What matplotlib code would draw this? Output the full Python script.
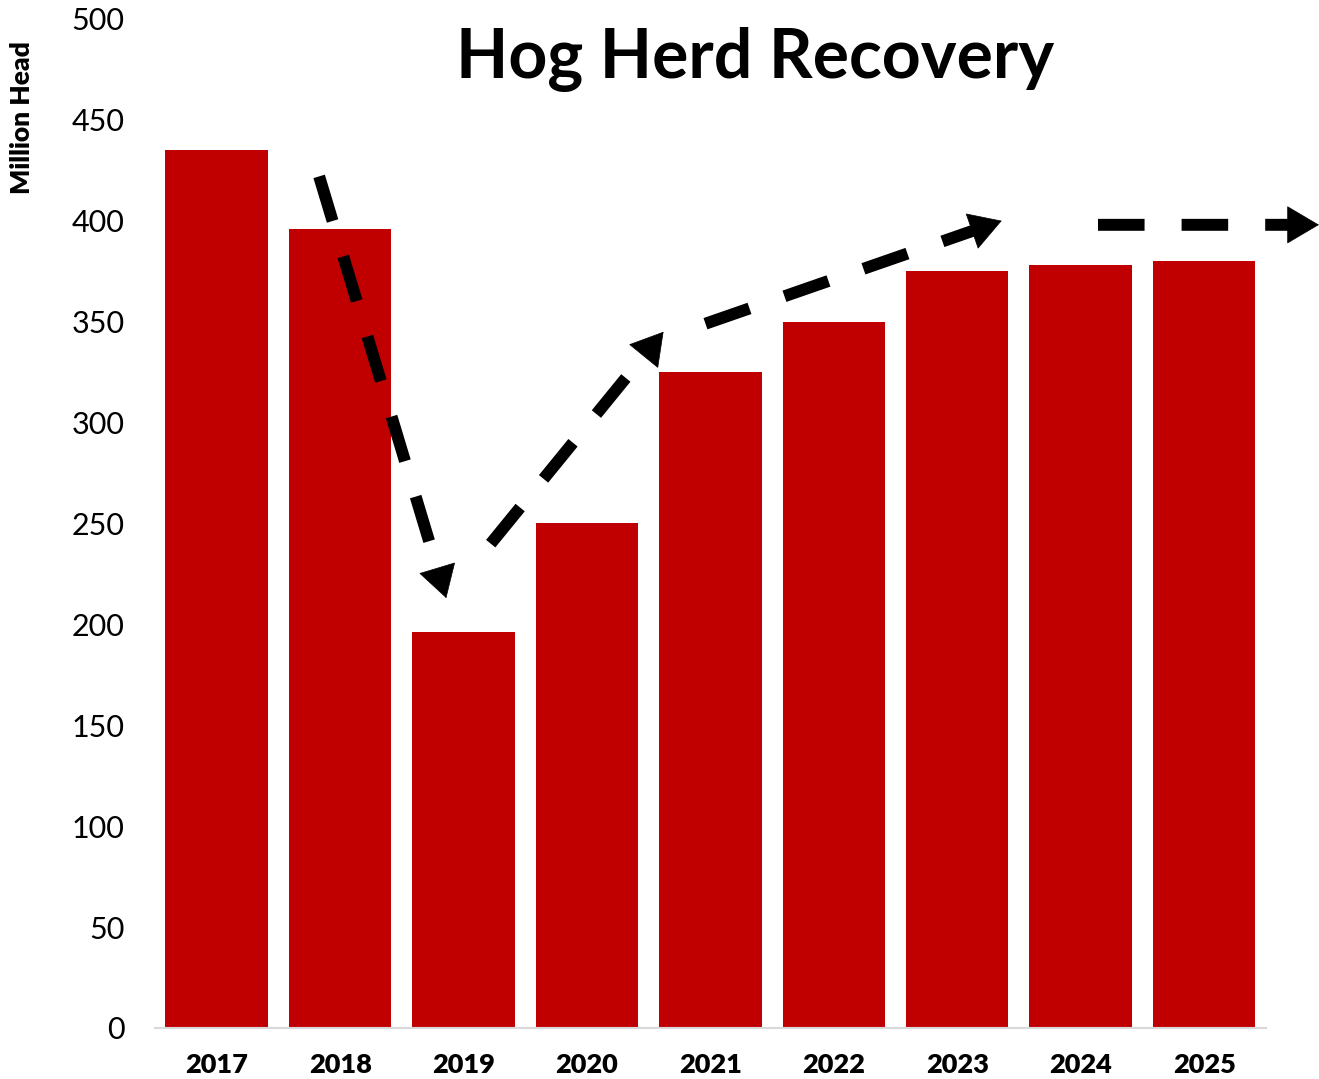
import matplotlib
matplotlib.use("Agg")
import matplotlib.pyplot as plt

years = ["2017", "2018", "2019", "2020", "2021", "2022", "2023", "2024", "2025"]
herd = [435, 396, 196, 250, 325, 350, 375, 378, 380]
yticks = [0, 50, 100, 150, 200, 250, 300, 350, 400, 450, 500]

# trend arrows (start x, start y, end x, end y) in data units
arrows = [
    (0.83, 422, 1.86, 213),
    (2.22, 240, 3.62, 345),
    (3.96, 349, 6.36, 400),
    (7.14, 398, 8.93, 398),
]

fig = plt.figure(figsize=(13.19, 10.79), dpi=100)
ax = fig.add_axes([0.1175, 0.0473, 0.9597 - 0.1175, 0.9824 - 0.0473])

x = list(range(len(years)))
ax.bar(x, herd, width=0.83, color="#C00000", zorder=2)
ax.set_xlim(-0.5, 8.5)
ax.set_ylim(0, 500)
ax.set_yticks(yticks)
ax.set_yticklabels([str(v) for v in yticks], fontsize=22, family="Lato")
ax.set_xticks(x)
ax.set_xticklabels(years, fontsize=19.5, family="Lato", fontweight="heavy")
ax.tick_params(axis="both", length=0)
ax.tick_params(axis="y", pad=22)
ax.tick_params(axis="x", pad=18)
for s in ["top", "right", "left"]:
    ax.spines[s].set_visible(False)
ax.spines["bottom"].set_color("#d9d9d9")
ax.spines["bottom"].set_linewidth(1.5)

fig.text(22 / 1319, 1 - 118 / 1079, "Million Head", rotation=90, ha="center", va="center",
         fontsize=19, fontweight="heavy", family="Lato")
fig.text(755 / 1319, 1 - 60 / 1079, "Hog Herd Recovery", ha="center", va="center",
         fontsize=49, fontweight="bold", family="Lato")

for (x0, y0, x1, y1) in arrows:
    dx, dy = x1 - x0, y1 - y0
    ax.annotate("", xy=(x1, y1), xytext=(x0, y0), annotation_clip=False,
                arrowprops=dict(arrowstyle="-", lw=8.6, color="black",
                                linestyle=(0, (3.9, 3.1)), shrinkA=0, shrinkB=20,
                                capstyle="butt"), zorder=5)
    ax.annotate("", xy=(x1, y1), xytext=(x1 - dx * 0.05, y1 - dy * 0.05),
                annotation_clip=False,
                arrowprops=dict(arrowstyle="-|>,head_length=2.2,head_width=1.3",
                                mutation_scale=10, lw=0.5, color="black",
                                shrinkA=0, shrinkB=0), zorder=5)

fig.savefig("out.png", dpi=100)
